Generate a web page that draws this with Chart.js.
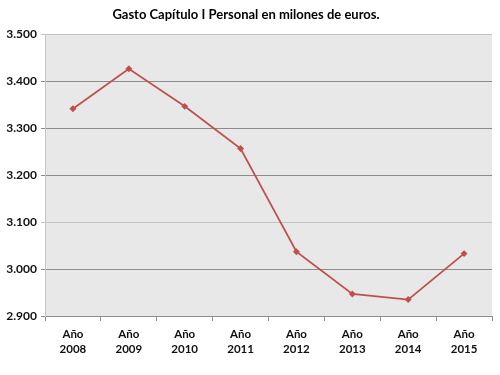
<!DOCTYPE html>
<html>
<head>
<meta charset="utf-8">
<script src="https://cdn.jsdelivr.net/npm/chart.js@4"></script>
<style>
  html, body { margin: 0; padding: 0; background: #fff; }
  #wrap { width: 500px; height: 375px; }
</style>
</head>
<body>
<div id="wrap"><canvas id="gasto-chart" width="500" height="375"></canvas></div>
<script>
// Datos
const years = ["2008", "2009", "2010", "2011", "2012", "2013", "2014", "2015"];
const gasto = [3342, 3427, 3347, 3257, 3037, 2947, 2935, 3033];
const yMin = 2900;
const yMax = 3500;
const yStep = 100;

const labels = years.map((y) => ["Año", y]);

// Fondo gris del área de trazado
const plotBg = {
  id: "plotBg",
  beforeDraw(chart) {
    const { ctx, chartArea } = chart;
    ctx.save();
    ctx.fillStyle = "#e8e8e8";
    ctx.fillRect(chartArea.left, chartArea.top, chartArea.right - chartArea.left, chartArea.bottom - chartArea.top);
    ctx.restore();
  },
};

const ctx = document.getElementById("gasto-chart").getContext("2d");

new Chart(ctx, {
  type: "line",
  data: {
    labels: labels,
    datasets: [
      {
        data: gasto,
        borderColor: "#c0504d",
        backgroundColor: "#c0504d",
        borderWidth: 1.8,
        pointStyle: "rectRot",
        pointRadius: 2.2,
        tension: 0,
      },
    ],
  },
  options: {
    responsive: false,
    animation: false,
    layout: { padding: { left: 0, right: 8, top: 0, bottom: 0 } },
    plugins: {
      legend: { display: false },
      tooltip: { enabled: false },
      title: {
        display: true,
        text: "Gasto Capítulo I Personal en milones de euros.",
        color: "#000",
        font: { family: "Lato", size: 13, weight: "bold" },
        padding: { top: 7, bottom: 12 },
      },
    },
    scales: {
      x: {
        offset: true,
        afterFit: (scale) => { scale.height = 59; },
        grid: {
          offset: true,
          drawOnChartArea: false,
          drawTicks: true,
          tickLength: 5,
          color: "#8c8c8c",
        },
        border: { color: "#8c8c8c", width: 1 },
        ticks: {
          color: "#111",
          font: { family: "Lato", size: 11.5, weight: "bold", lineHeight: 1.3 },
          padding: 6,
          maxRotation: 0,
        },
      },
      y: {
        min: yMin,
        max: yMax,
        afterFit: (scale) => { scale.width = 45; },
        grid: {
          color: (c) => (c.tick && (c.tick.value === 3500 || c.tick.value === 3100) ? "#c4c4c4" : "#8c8c8c"),
          tickLength: 4,
        },
        border: { color: "#c4c4c4", width: 1 },
        ticks: {
          stepSize: yStep,
          color: "#111",
          font: { family: "Lato", size: 12, weight: "bold" },
          padding: 4,
          callback: (v) => (v / 1000).toFixed(3),
        },
      },
    },
  },
  plugins: [plotBg],
});
</script>
</body>
</html>
